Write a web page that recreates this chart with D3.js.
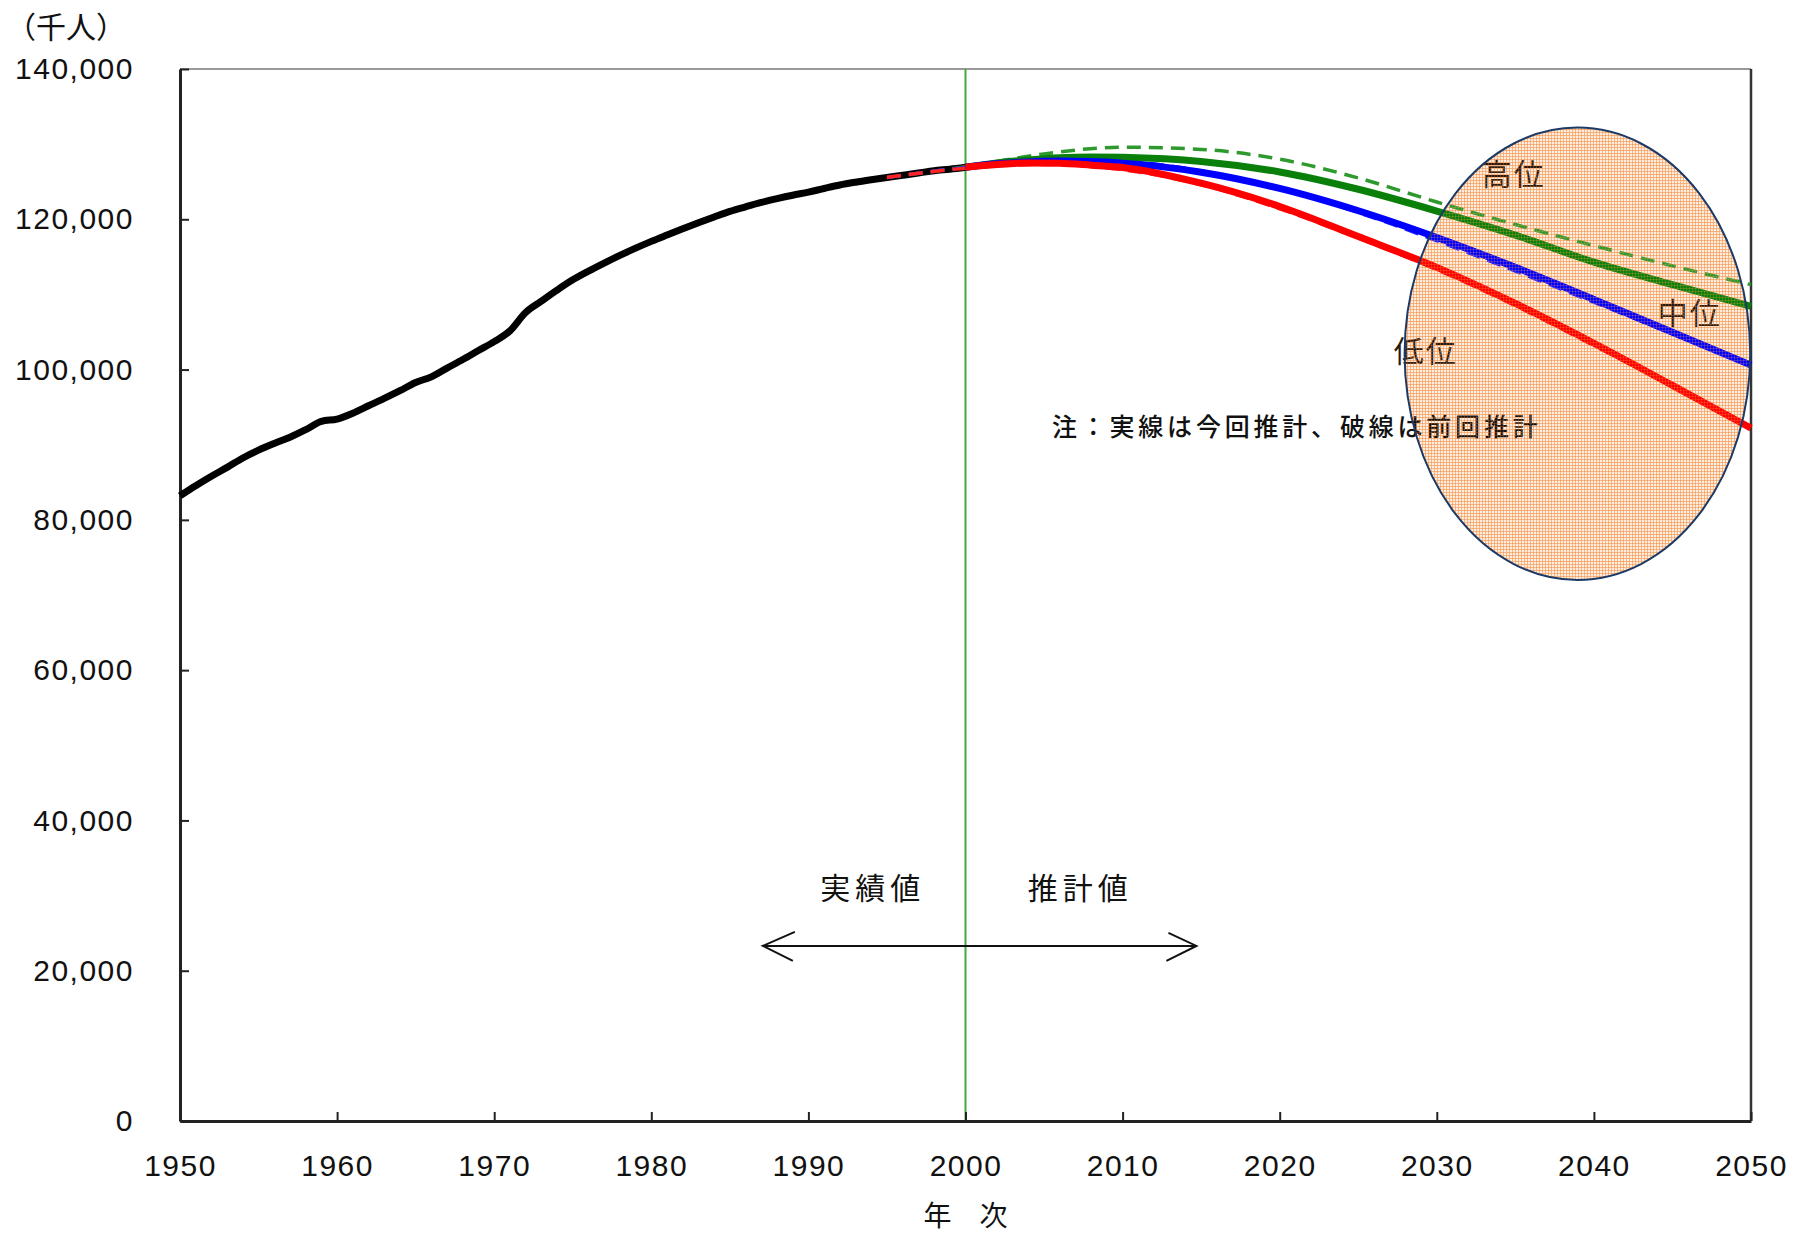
<!DOCTYPE html>
<html>
<head>
<meta charset="utf-8">
<script src="https://cdn.jsdelivr.net/npm/d3@7"></script>
<style>
  html, body { margin: 0; padding: 0; background: #fff; }
  svg { display: block; }
  .tick text { font-family: "Liberation Sans", Arial, sans-serif; font-size: 30px; letter-spacing: 1.5px; fill: #111; }
  .jp { font-family: "Noto Sans CJK JP", sans-serif; fill: #111; }
</style>
</head>
<body>
<svg id="chart" width="1798" height="1234"></svg>
<script>
// ---------------- data (thousands of persons) ----------------
const actualYears = [1950,1951,1952,1953,1954,1955,1956,1957,1958,1959,1960,1961,1962,1963,1964,1965,1966,1967,1968,1969,1970,1971,1972,1973,1974,1975,1976,1977,1978,1979,1980,1981,1982,1983,1984,1985,1986,1987,1988,1989,1990,1991,1992,1993,1994,1995,1996,1997,1998,1999,2000];
const actualValues = [83200,84541,85808,86981,88239,89276,90172,91000,92000,93100,93419,94200,95181,96156,97186,98275,99036,100196,101331,102536,103720,105145,107595,109104,110573,111940,113094,114165,115190,116155,117060,117902,118728,119536,120305,121049,121660,122239,122745,123205,123611,124101,124567,124938,125265,125570,125859,126157,126472,126667,126926];

// current projection (solid)
const projYears = [2000,2002,2004,2006,2008,2010,2015,2020,2025,2030,2035,2040,2045,2050];
const highNew   = [126926,127500,127900,128200,128300,128250,127700,126300,124000,121100,117900,114300,111300,108400];
const midNew    = [126926,127377,127635,127741,127686,127473,126266,124107,121136,117580,113602,109338,104960,100593];
const lowNew    = [126926,127300,127500,127450,127200,126900,124800,121700,117700,113600,108800,103500,97900,92200];

// previous projection (dashed)
const prevYears = [1995,2000,2005,2010,2015,2020,2025,2030,2035,2040,2045,2050];
const highPrev  = [125570,127000,128700,129600,129300,128000,125500,122300,119300,116500,113800,111300];
const midPrev   = [125570,126892,127684,127623,126444,124133,120913,117149,113114,108964,104758,100496];
const lowPrev   = [125570,126800,127300,126600,124600,121400,117500,113300,108500,103200,97800,92200];

const xTicks = [1950,1960,1970,1980,1990,2000,2010,2020,2030,2040,2050];
const yTicks = [0,20000,40000,60000,80000,100000,120000,140000];

const unitLabel = "（千人）";
const xTitle = "年　次";
const leftLabel = "実績値";
const rightLabel = "推計値";
const highLabel = "高位";
const midLabel = "中位";
const lowLabel = "低位";
const noteText = "注：実線は今回推計、破線は前回推計";

// ---------------- layout ----------------
const W = 1798, H = 1234;
const M = {left: 180, top: 69, right: 47, bottom: 113};
const iw = W - M.left - M.right, ih = H - M.top - M.bottom;

const svg = d3.select("#chart");
const defs = svg.append("defs");
const pat = defs.append("pattern").attr("id", "grid")
  .attr("width", 3).attr("height", 3).attr("patternUnits", "userSpaceOnUse");
pat.append("rect").attr("width", 3).attr("height", 3).attr("fill", "#feeee2");
pat.append("path").attr("d", "M0,0.5H3M0.5,0V3")
  .attr("stroke", "#f7a060").attr("stroke-width", 1).attr("stroke-opacity", 0.6);
const pat2 = defs.append("pattern").attr("id", "grid2")
  .attr("width", 3).attr("height", 3).attr("patternUnits", "userSpaceOnUse");
pat2.append("path").attr("d", "M0,0.5H3M0.5,0V3")
  .attr("stroke", "#f7964a").attr("stroke-width", 1).attr("stroke-opacity", 0.25);

const g = svg.append("g").attr("transform", `translate(${M.left},${M.top})`);

const x = d3.scaleLinear().domain([1950, 2050]).range([0, iw]);
const y = d3.scaleLinear().domain([0, 140000]).range([ih, 0]);

const ell = {cx: x(2038.95), cy: y(102100), rx: x(2050) - x(2039), ry: y(0) - y(30100)};

// frame top
g.append("line").attr("x1", 0).attr("x2", iw).attr("y1", 0).attr("y2", 0)
  .attr("stroke", "#999").attr("stroke-width", 2);

// highlight ellipse fill (under lines)
g.append("ellipse").attr("cx", ell.cx).attr("cy", ell.cy).attr("rx", ell.rx).attr("ry", ell.ry)
  .attr("fill", "url(#grid)").attr("stroke", "none");

g.append("line").attr("x1", iw).attr("x2", iw).attr("y1", 0).attr("y2", ih)
  .attr("stroke", "#333").attr("stroke-width", 2.5);

// 2000 divider
g.append("line").attr("x1", x(2000)).attr("x2", x(2000)).attr("y1", 0).attr("y2", ih)
  .attr("stroke", "#3cab3c").attr("stroke-width", 2);

// axes
const yAxis = d3.axisLeft(y).tickValues(yTicks).tickFormat(d3.format(","))
  .tickSize(-9).tickSizeOuter(0).tickPadding(46);
const yg = g.append("g").call(yAxis);
const xAxis = d3.axisBottom(x).tickValues(xTicks).tickFormat(d3.format("d"))
  .tickSize(-9).tickSizeOuter(0).tickPadding(34);
const xg = g.append("g").attr("transform", `translate(0,${ih})`).call(xAxis);
[yg, xg].forEach(a => {
  a.select(".domain").attr("stroke", "#222").attr("stroke-width", 3);
  a.selectAll(".tick line").attr("stroke", "#222").attr("stroke-width", 2);
});

// lines
const mk = (yrs, vals) => yrs.map((yr, i) => [yr, vals[i]]);
const line = d3.line().x(d => x(d[0])).y(d => y(d[1])).curve(d3.curveMonotoneX);

g.append("path").datum(mk(actualYears, actualValues)).attr("d", line)
  .attr("fill", "none").attr("stroke", "#000").attr("stroke-width", 7).attr("stroke-linejoin", "round");

const dashed = [[highPrev, "#2e9a2e"], [midPrev, "#2020ff"], [lowPrev, "#ff2020"]];
dashed.forEach(([vals, c]) => {
  g.append("path").datum(mk(prevYears, vals)).attr("d", line)
    .attr("fill", "none").attr("stroke", c).attr("stroke-width", 3.5)
    .attr("stroke-dasharray", "14,8");
});

const solid = [[highNew, "#0a800a"], [midNew, "#0000ff"], [lowNew, "#ff0000"]];
solid.forEach(([vals, c]) => {
  g.append("path").datum(mk(projYears, vals)).attr("d", line)
    .attr("fill", "none").attr("stroke", c).attr("stroke-width", 7).attr("stroke-linejoin", "round");
});

// texts
svg.append("text").attr("class", "jp").attr("x", 6).attr("y", 38)
  .attr("font-size", 30).text(unitLabel);
svg.append("text").attr("class", "jp").attr("x", x(2000) + M.left).attr("y", 1226)
  .attr("text-anchor", "middle").attr("font-size", 28).text(xTitle);

g.append("text").attr("class", "jp").attr("x", x(1994.1)).attr("y", y(31300))
  .attr("text-anchor", "middle").attr("dominant-baseline", "central")
  .attr("font-size", 30).attr("letter-spacing", 5).text(leftLabel);
g.append("text").attr("class", "jp").attr("x", x(2007.3)).attr("y", y(31300))
  .attr("text-anchor", "middle").attr("dominant-baseline", "central")
  .attr("font-size", 30).attr("letter-spacing", 5).text(rightLabel);

// double arrow
const ay = y(23300);
const ax1 = x(1987.1), ax2 = x(2014.7);
const arr = g.append("g").attr("stroke", "#111").attr("stroke-width", 2).attr("fill", "none");
arr.append("line").attr("x1", ax1).attr("x2", ax2).attr("y1", ay).attr("y2", ay);
arr.append("path").attr("d", `M${ax1 + 32},${ay - 14}L${ax1},${ay}L${ax1 + 30},${ay + 15}`);
arr.append("path").attr("d", `M${ax2 - 28},${ay - 13}L${ax2},${ay}L${ax2 - 30},${ay + 15}`);

// note
g.append("text").attr("class", "jp").attr("x", x(2005.5)).attr("y", y(92600))
  .attr("dominant-baseline", "central").attr("font-size", 25).attr("font-weight", 500)
  .attr("letter-spacing", 3.8).text(noteText);

// series labels
const lblColor = "#2a1a10";
g.append("text").attr("class", "jp").attr("x", x(2034.9)).attr("y", y(126300))
  .attr("text-anchor", "middle").attr("dominant-baseline", "central").style("fill", lblColor)
  .attr("font-size", 30).attr("letter-spacing", 2).text(highLabel);
g.append("text").attr("class", "jp").attr("x", x(2046.1)).attr("y", y(107800))
  .attr("text-anchor", "middle").attr("dominant-baseline", "central").style("fill", lblColor)
  .attr("font-size", 30).attr("letter-spacing", 2).text(midLabel);
g.append("text").attr("class", "jp").attr("x", x(2029.3)).attr("y", y(102800))
  .attr("text-anchor", "middle").attr("dominant-baseline", "central").style("fill", lblColor)
  .attr("font-size", 30).attr("letter-spacing", 2).text(lowLabel);

// highlight ellipse overlay + outline
g.append("ellipse").attr("cx", ell.cx).attr("cy", ell.cy).attr("rx", ell.rx).attr("ry", ell.ry)
  .attr("fill", "url(#grid2)").attr("stroke", "#1c3a66").attr("stroke-width", 2);
</script>
</body>
</html>
